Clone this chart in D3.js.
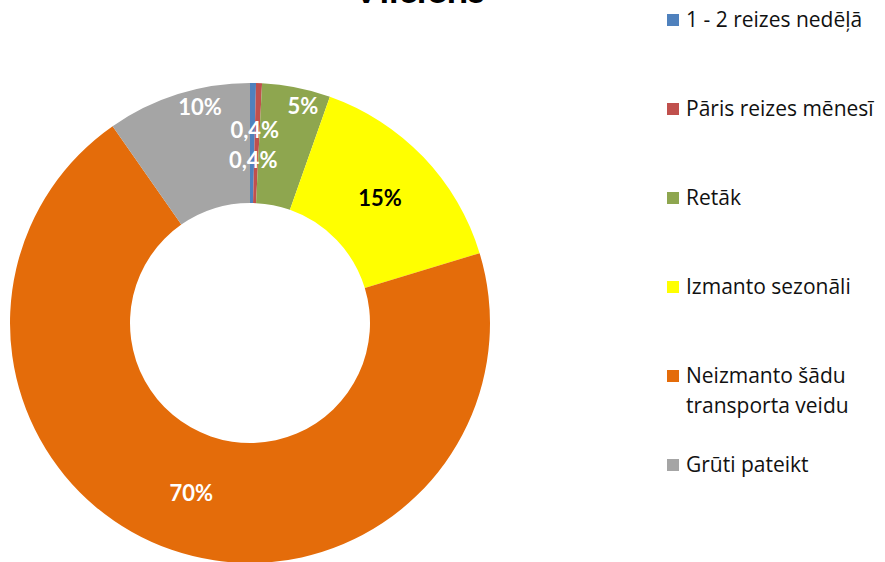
<!DOCTYPE html>
<meta charset="utf-8">
<html>
<head>
<style>
  body { margin: 0; background: #fff; }
  text { font-family: Lato, "Open Sans", sans-serif; }
</style>
</head>
<body>
<svg id="chart" width="885" height="562"></svg>

<script src="https://d3js.org/d3.v7.min.js"></script>
<script>
// data (share of respondents, %)
var categories = ["1 - 2 reizes nedēļā", "Pāris reizes mēnesī", "Retāk",
                  "Izmanto sezonāli", "Neizmanto šādu transporta veidu", "Grūti pateikt"]
var legendLines = [["1 - 2 reizes nedēļā"], ["Pāris reizes mēnesī"], ["Retāk"],
                   ["Izmanto sezonāli"], ["Neizmanto šādu", "transporta veidu"], ["Grūti pateikt"]]
var values = [0.4, 0.4, 4.6, 14.9, 70.0, 9.7]
var colors = ["#4F81BD", "#C0504D", "#8EA64F", "#FFFF00", "#E46C0A", "#A5A5A5"]
var labelColors = ["#fff", "#fff", "#fff", "#000", "#fff", "#fff"]
// label nudges away from the slice centroid (Excel pushes the crowded ones out)
var labelNudge = [[1, 17], [-2, -13], [18, -40], [0, 0], [0, 0], [4, -44]]

var svg = d3.select("#chart")

var cx = 250, cy = 323, rOuter = 240, rInner = 120

var pie = d3.pie().sort(null).value(d => d)
var arc = d3.arc().innerRadius(rInner).outerRadius(rOuter)
var midArc = d3.arc().innerRadius(180).outerRadius(180)

function fmt(v) {
  return v < 1 ? d3.format(".1f")(v).replace(".", ",") + "%" : Math.round(v) + "%"
}

var donut = svg.append("g").attr("transform", "translate(" + cx + "," + cy + ")")
var arcs = pie(values)

donut.selectAll("path")
  .data(arcs)
  .enter().append("path")
  .attr("d", arc)
  .attr("fill", (d, i) => colors[i])

donut.selectAll("text")
  .data(arcs)
  .enter().append("text")
  .attr("transform", (d, i) => {
    var c = midArc.centroid(d)
    return "translate(" + (c[0] + labelNudge[i][0]) + "," + (c[1] + labelNudge[i][1]) + ")"
  })
  .attr("text-anchor", "middle")
  .attr("dy", "0.36em")
  .style("font-size", "22px")
  .style("font-weight", "bold")
  .attr("fill", (d, i) => labelColors[i])
  .text(d => fmt(d.data))

// title, cut off at the top of the image like in the original
svg.append("text")
  .attr("x", 419)
  .attr("y", 3)
  .attr("text-anchor", "middle")
  .style("font-size", "38px")
  .style("font-weight", "bold")
  .attr("fill", "#000")
  .text("Vilciens")

// legend
var legend = svg.append("g").attr("transform", "translate(667,27)")
var item = legend.selectAll("g")
  .data(categories)
  .enter().append("g")
  .attr("transform", (d, i) => "translate(0," + (i * 89) + ")")

item.append("rect")
  .attr("x", 0)
  .attr("y", -13)
  .attr("width", 12)
  .attr("height", 12)
  .attr("fill", (d, i) => colors[i])

item.append("text")
  .attr("x", 19)
  .style("font-family", "'Open Sans', sans-serif")
  .style("font-size", "21px")
  .attr("fill", "#111")
  .selectAll("tspan")
  .data((d, i) => legendLines[i])
  .enter().append("tspan")
  .attr("x", 19)
  .attr("dy", (d, j) => j == 0 ? 0 : 30)
  .text(d => d)
</script>
</body>
</html>
